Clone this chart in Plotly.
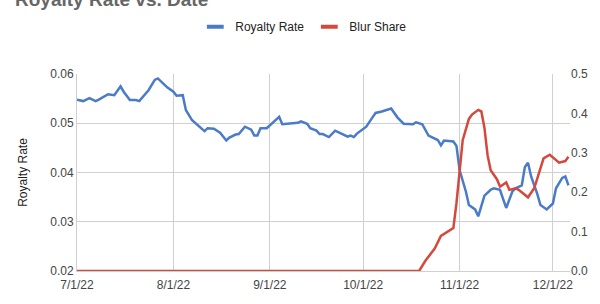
import plotly.graph_objects as go

# ---- data ----
royalty_dates = [
    "2022-07-01", "2022-07-03", "2022-07-05", "2022-07-07", "2022-07-08", "2022-07-11",
    "2022-07-13", "2022-07-15", "2022-07-16", "2022-07-18", "2022-07-20", "2022-07-21",
    "2022-07-24", "2022-07-26", "2022-07-27", "2022-07-28", "2022-07-30", "2022-08-01",
    "2022-08-02", "2022-08-04", "2022-08-05", "2022-08-07", "2022-08-10", "2022-08-11",
    "2022-08-12", "2022-08-14", "2022-08-16", "2022-08-18", "2022-08-19", "2022-08-21",
    "2022-08-22", "2022-08-24", "2022-08-26", "2022-08-27", "2022-08-28", "2022-08-29",
    "2022-08-31", "2022-09-02", "2022-09-04", "2022-09-05", "2022-09-07", "2022-09-10",
    "2022-09-11", "2022-09-13", "2022-09-14", "2022-09-16", "2022-09-17", "2022-09-18",
    "2022-09-20", "2022-09-22", "2022-09-24", "2022-09-26", "2022-09-27", "2022-09-28",
    "2022-09-29", "2022-10-02", "2022-10-04", "2022-10-05", "2022-10-07", "2022-10-10",
    "2022-10-12", "2022-10-14", "2022-10-17", "2022-10-18", "2022-10-20", "2022-10-22",
    "2022-10-25", "2022-10-26", "2022-10-27", "2022-10-30", "2022-10-31", "2022-11-01",
    "2022-11-03", "2022-11-04", "2022-11-06", "2022-11-07", "2022-11-09", "2022-11-11",
    "2022-11-12", "2022-11-14", "2022-11-15", "2022-11-16", "2022-11-18", "2022-11-19",
    "2022-11-21", "2022-11-22", "2022-11-23", "2022-11-24", "2022-11-26", "2022-11-27",
    "2022-11-29", "2022-12-01", "2022-12-02", "2022-12-04", "2022-12-05", "2022-12-06",
]
royalty_rate = [
    0.0548, 0.0545, 0.0551, 0.0545, 0.0548, 0.0559,
    0.0557, 0.0575, 0.0564, 0.0547, 0.0547, 0.0545,
    0.0567, 0.0588, 0.0591, 0.0585, 0.0573, 0.0564,
    0.0556, 0.0557, 0.0527, 0.0506, 0.0490, 0.0484,
    0.0490, 0.0489, 0.0481, 0.0465, 0.0471, 0.0477,
    0.0478, 0.0493, 0.0487, 0.0475, 0.0475, 0.0490,
    0.0490, 0.0502, 0.0513, 0.0498, 0.0499, 0.0501,
    0.0504, 0.0499, 0.0490, 0.0485, 0.0478, 0.0478,
    0.0472, 0.0485, 0.0479, 0.0473, 0.0475, 0.0472,
    0.0479, 0.0493, 0.0512, 0.0521, 0.0524, 0.0530,
    0.0512, 0.0499, 0.0498, 0.0502, 0.0498, 0.0475,
    0.0466, 0.0455, 0.0465, 0.0463, 0.0454, 0.0405,
    0.0362, 0.0334, 0.0325, 0.0311, 0.0353, 0.0365,
    0.0368, 0.0365, 0.0346, 0.0328, 0.0362, 0.0368,
    0.0374, 0.0411, 0.0420, 0.0392, 0.0356, 0.0334,
    0.0325, 0.0337, 0.0368, 0.0389, 0.0392, 0.0374,
]

blur_dates = [
    "2022-07-01", "2022-10-19", "2022-10-21", "2022-10-24", "2022-10-26", "2022-10-28",
    "2022-10-30", "2022-10-31", "2022-11-01", "2022-11-02", "2022-11-04", "2022-11-05",
    "2022-11-07", "2022-11-08", "2022-11-09", "2022-11-10", "2022-11-11", "2022-11-13",
    "2022-11-14", "2022-11-16", "2022-11-17", "2022-11-19", "2022-11-20", "2022-11-23",
    "2022-11-25", "2022-11-27", "2022-11-28", "2022-11-30", "2022-12-02", "2022-12-03",
    "2022-12-05", "2022-12-06",
]
blur_share = [
    0.0, 0.0, 0.026, 0.057, 0.089, 0.100,
    0.109, 0.172, 0.248, 0.332, 0.386, 0.397,
    0.409, 0.405, 0.363, 0.294, 0.256, 0.233,
    0.214, 0.225, 0.206, 0.210, 0.206, 0.187,
    0.210, 0.260, 0.286, 0.295, 0.283, 0.275,
    0.279, 0.290,
]

BLUE = "#4a7bc8"
RED = "#d4493c"
FONT = "Liberation Sans, Arial, sans-serif"

fig = go.Figure()
fig.add_trace(go.Scatter(x=royalty_dates, y=royalty_rate, mode="lines",
                         line=dict(color=BLUE, width=2.5), showlegend=False,
                         yaxis="y"))
fig.add_trace(go.Scatter(x=blur_dates, y=blur_share, mode="lines",
                         line=dict(color=RED, width=2.5), showlegend=False,
                         yaxis="y2"))
# legend entries
fig.add_trace(go.Scatter(x=[None], y=[None], mode="markers", name="Royalty Rate",
                         marker=dict(symbol="line-ew-open", size=12, color=BLUE,
                                     line=dict(color=BLUE, width=4))))
fig.add_trace(go.Scatter(x=[None], y=[None], mode="markers", name="Blur Share",
                         marker=dict(symbol="line-ew-open", size=12, color=RED,
                                     line=dict(color=RED, width=4))))

fig.update_layout(
    width=600, height=304,
    margin=dict(l=77, r=30, t=53, b=33),
    paper_bgcolor="white", plot_bgcolor="white",
    font=dict(family=FONT, size=12, color="#444"),
    showlegend=True,
    legend=dict(orientation="h", x=0.46, xanchor="center", y=1.24, yanchor="middle",
                font=dict(size=12, color="#222"), itemwidth=30,
                bgcolor="rgba(0,0,0,0)"),
    xaxis=dict(
        type="date", range=["2022-07-01", "2022-12-06 12:00"],
        tick0="2022-07-01", dtick="M1", tickformat="%-m/%-d/%y",
        showgrid=True, gridcolor="#d0d0d0", gridwidth=1,
        showline=True, linecolor="#d0d0d0", linewidth=1,
        ticks="", ticklabelstandoff=3, tickfont=dict(size=12, color="#444"),
    ),
    yaxis=dict(
        range=[0.02, 0.06], dtick=0.01, tickformat=".2f",
        showgrid=True, gridcolor="#d0d0d0", gridwidth=1,
        showline=True, linecolor="#d0d0d0", linewidth=1,
        zeroline=False, ticks="", tickfont=dict(size=12, color="#444"),
        title=dict(text="Royalty Rate", font=dict(size=12, color="#222"), standoff=20),
    ),
    yaxis2=dict(
        range=[0, 0.5], dtick=0.1, tickformat=".1f", overlaying="y", side="right",
        showgrid=False, zeroline=False, ticks="",
        tickfont=dict(size=12, color="#444"),
    ),
    annotations=[dict(
        text="<b>Royalty Rate vs. Date</b>", xref="paper", yref="paper",
        x=-0.13, y=1.315, xanchor="left", yanchor="bottom", showarrow=False,
        font=dict(size=19, color="#666", family=FONT),
    )],
)

fig.write_html("out.html")
